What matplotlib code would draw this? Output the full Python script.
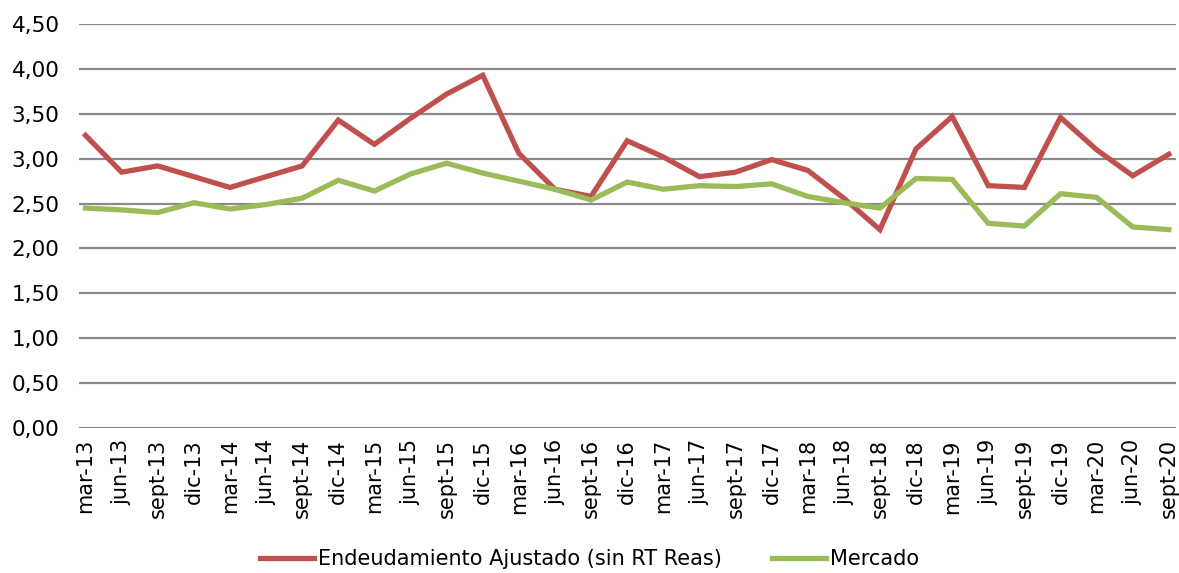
import matplotlib
matplotlib.use("Agg")
import matplotlib.pyplot as plt
from matplotlib.ticker import FuncFormatter

categories = ["mar-13", "jun-13", "sept-13", "dic-13", "mar-14", "jun-14", "sept-14", "dic-14",
              "mar-15", "jun-15", "sept-15", "dic-15", "mar-16", "jun-16", "sept-16", "dic-16",
              "mar-17", "jun-17", "sept-17", "dic-17", "mar-18", "jun-18", "sept-18", "dic-18",
              "mar-19", "jun-19", "sept-19", "dic-19", "mar-20", "jun-20", "sept-20"]

endeudamiento = [3.26, 2.85, 2.92, 2.80, 2.68, 2.80, 2.92, 3.43,
                 3.16, 3.45, 3.72, 3.93, 3.06, 2.66, 2.58, 3.20,
                 3.02, 2.80, 2.85, 2.99, 2.87, 2.56, 2.21, 3.11,
                 3.47, 2.70, 2.68, 3.46, 3.10, 2.81, 3.05]

mercado = [2.45, 2.43, 2.40, 2.51, 2.44, 2.49, 2.56, 2.76,
           2.64, 2.83, 2.95, 2.84, 2.75, 2.66, 2.54, 2.74,
           2.66, 2.70, 2.69, 2.72, 2.58, 2.51, 2.45, 2.78,
           2.77, 2.28, 2.25, 2.61, 2.57, 2.24, 2.21]

series_names = ["Endeudamiento Ajustado (sin RT Reas)", "Mercado"]
yticks = [0, 0.5, 1.0, 1.5, 2.0, 2.5, 3.0, 3.5, 4.0, 4.5]

plt.rcParams['font.family'] = ['DejaVu Sans']

fig = plt.figure(figsize=(11.79, 5.73), dpi=100)
ax = fig.add_axes([0.067, 0.253, 0.9305, 0.705])

x = list(range(len(categories)))
ax.plot(x, endeudamiento, color="#C0504D", linewidth=3.8, solid_joinstyle="miter",
        label=series_names[0], zorder=3)
ax.plot(x, mercado, color="#9BBB59", linewidth=3.8, solid_joinstyle="miter",
        label=series_names[1], zorder=3)

ax.set_ylim(0, 4.5)
ax.set_xlim(-0.18, len(categories) - 1 + 0.2)
ax.set_yticks(yticks)
ax.yaxis.set_major_formatter(FuncFormatter(lambda v, p: f"{v:.2f}".replace(".", ",")))
ax.set_xticks(x)
ax.set_xticklabels(categories, rotation=90)
ax.tick_params(axis="both", length=0, colors="black")
ax.tick_params(axis="x", pad=8, labelsize=15)
ax.tick_params(axis="y", pad=14, labelsize=15.5)

ax.grid(axis="y", color="#8a8a8a", linewidth=1.6, zorder=0)
ax.set_axisbelow(True)
for s in ax.spines.values():
    s.set_visible(False)

fig.legend(loc="center", bbox_to_anchor=(0.5, 0.024), ncol=2, frameon=False,
           fontsize=15, handlelength=2.6, handletextpad=0.2, columnspacing=2.4,
           borderpad=0.1)

fig.savefig("out.png", dpi=100)
